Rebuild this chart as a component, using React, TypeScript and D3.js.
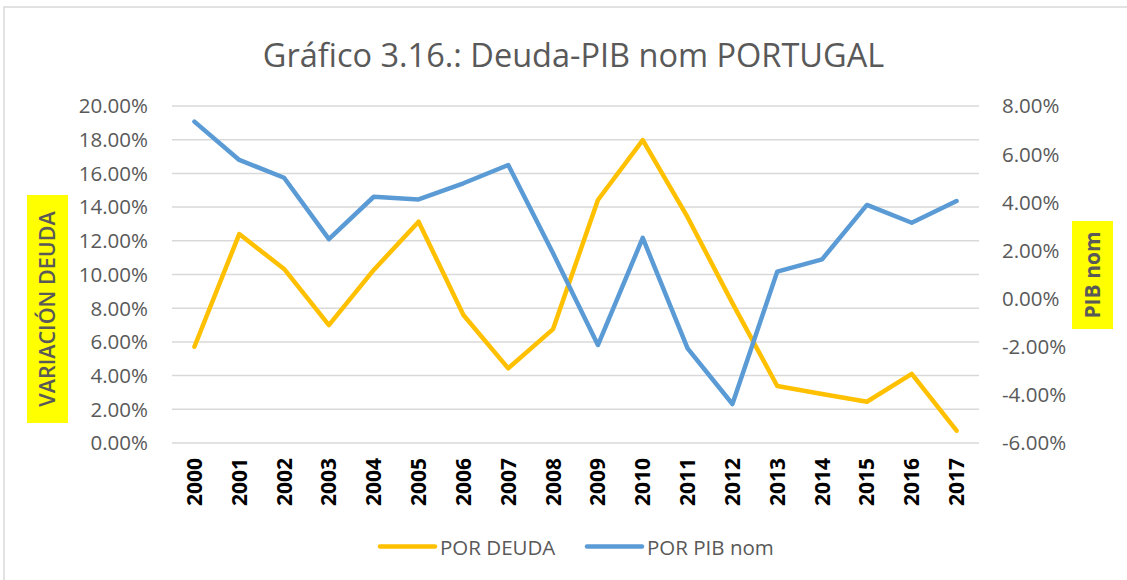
import React from "react";
import { scaleBand, scaleLinear, line } from "d3";

const years = [
  "2000", "2001", "2002", "2003", "2004", "2005", "2006", "2007", "2008",
  "2009", "2010", "2011", "2012", "2013", "2014", "2015", "2016", "2017",
];
// POR DEUDA (left axis, %)
const deuda = [
  5.71, 12.4, 10.33, 7.0, 10.27, 13.13, 7.6, 4.43, 6.76, 14.42, 17.98, 13.4,
  8.3, 3.38, 2.91, 2.45, 4.1, 0.73,
];
// POR PIB nom (right axis, %)
const pib = [
  7.35, 5.76, 5.02, 2.47, 4.23, 4.12, 4.79, 5.55, 1.88, -1.93, 2.52, -2.07,
  -4.38, 1.12, 1.63, 3.89, 3.15, 4.05,
];
const leftTicks = [0, 2, 4, 6, 8, 10, 12, 14, 16, 18, 20];
const rightTicks = [-6, -4, -2, 0, 2, 4, 6, 8];
const seriesNames = ["POR DEUDA", "POR PIB nom"];
const seriesColors = ["#FFC000", "#5B9BD5"];

const W = 1127;
const H = 580;
const plot = { left: 172, right: 979, top: 106, bottom: 443 };
const font = "'Open Sans', sans-serif";
const grey = "#595959";

const x = scaleBand().domain(years).range([plot.left, plot.right]);
const yL = scaleLinear().domain([0, 20]).range([plot.bottom, plot.top]);
const yR = scaleLinear().domain([-6, 8]).range([plot.bottom, plot.top]);

const cx = (i: number) => (x(years[i]) as number) + x.bandwidth() / 2;
const lineL = line<number>().x((_, i) => cx(i)).y((d) => yL(d));
const lineR = line<number>().x((_, i) => cx(i)).y((d) => yR(d));

const fmt = (v: number) => `${v.toFixed(2)}%`;

export default function App() {
  const legendX = [380, 587];
  return (
    <svg
      width={W}
      height={H}
      style={{ position: "absolute", left: 0, top: 0, background: "#fff" }}
      fontFamily={font}
    >
      <rect x={0} y={0} width={W} height={H} fill="#fff" />
      <rect
        x={4}
        y={7}
        width={W + 20}
        height={H + 20}
        fill="#fff"
        stroke="#d9d9d9"
        strokeWidth={1.5}
      />
      <text
        x={573.5}
        y={67}
        textAnchor="middle"
        fontSize={32.5}
        fill={grey}
      >
        Gráfico 3.16.: Deuda-PIB nom PORTUGAL
      </text>

      {/* gridlines from left axis */}
      {leftTicks.map((t) => (
        <line
          key={`g${t}`}
          x1={plot.left}
          x2={plot.right}
          y1={yL(t)}
          y2={yL(t)}
          stroke="#d9d9d9"
          strokeWidth={1.5}
        />
      ))}

      {leftTicks.map((t) => (
        <text
          key={`l${t}`}
          x={148}
          y={yL(t)}
          dy="0.36em"
          textAnchor="end"
          fontSize={20.5}
          fill={grey}
        >
          {fmt(t)}
        </text>
      ))}
      {rightTicks.map((t) => (
        <text
          key={`r${t}`}
          x={1002}
          y={yR(t)}
          dy="0.36em"
          textAnchor="start"
          fontSize={20.5}
          fill={grey}
        >
          {fmt(t)}
        </text>
      ))}

      {years.map((yr, i) => (
        <text
          key={yr}
          transform={`translate(${cx(i)},458) rotate(-90)`}
          dy="0.36em"
          textAnchor="end"
          fontSize={21}
          fontWeight="bold"
          fill="#000"
        >
          {yr}
        </text>
      ))}

      {/* axis titles */}
      <rect x={27} y={195} width={41} height={228} fill="#FFFF00" />
      <text
        transform="translate(47.5,309) rotate(-90)"
        dy="0.36em"
        textAnchor="middle"
        fontSize={21.5}
        fontWeight={600}
        fill={grey}
      >
        VARIACIÓN DEUDA
      </text>
      <rect x={1072} y={221} width={41} height={108} fill="#FFFF00" />
      <text
        transform="translate(1092.5,275) rotate(-90)"
        dy="0.36em"
        textAnchor="middle"
        fontSize={21}
        fontWeight="bold"
        fill={grey}
      >
        PIB nom
      </text>

      <path
        d={lineL(deuda) || ""}
        fill="none"
        stroke={seriesColors[0]}
        strokeWidth={4.5}
        strokeLinejoin="round"
        strokeLinecap="round"
      />
      <path
        d={lineR(pib) || ""}
        fill="none"
        stroke={seriesColors[1]}
        strokeWidth={4.5}
        strokeLinejoin="round"
        strokeLinecap="round"
      />

      {seriesNames.map((name, i) => (
        <g key={name}>
          <line
            x1={legendX[i]}
            x2={legendX[i] + 55}
            y1={546.5}
            y2={546.5}
            stroke={seriesColors[i]}
            strokeWidth={4.5}
            strokeLinecap="round"
          />
          <text x={legendX[i] + 60} y={555} fontSize={20.5} fill={grey}>
            {name}
          </text>
        </g>
      ))}
    </svg>
  );
}
